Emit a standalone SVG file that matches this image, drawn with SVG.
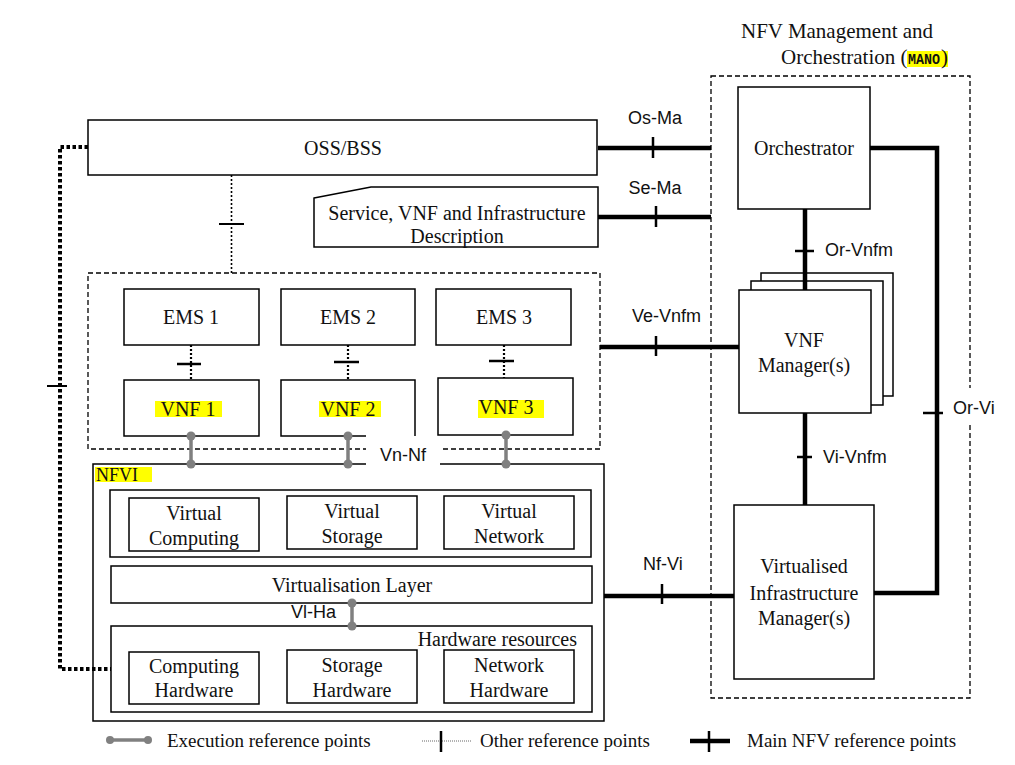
<svg xmlns="http://www.w3.org/2000/svg" width="1015" height="765" viewBox="0 0 1015 765">
<style>
.box{fill:#fff;stroke:#000;stroke-width:1.5}
.dbox{fill:none;stroke:#000;stroke-width:1.3;stroke-dasharray:5 3}
.t{font-family:"Liberation Serif","Times New Roman",serif;font-size:20px;fill:#111;text-anchor:middle}
.tl{font-family:"Liberation Serif","Times New Roman",serif;font-size:19px;fill:#111}
.s{font-family:"Liberation Sans",Arial,sans-serif;font-size:18px;fill:#111}
.main{stroke:#000;stroke-width:4.5;fill:none}
.tick{stroke:#000;stroke-width:2.5}
.exe{stroke:#808080;stroke-width:3.5}
.dot{fill:#808080}
.oth{stroke:#000;stroke-width:1.6;stroke-dasharray:2 2;fill:none}
.tdot{stroke:#000;stroke-width:4;stroke-dasharray:3.5 2.5;fill:none}
.hl{fill:#ffff00}
.wb{fill:#fff}
</style>
<rect width="1015" height="765" fill="#fff"/>

<g id="mano">
<rect class="dbox" x="711" y="76" width="259" height="622"/>
<text class="tl" x="741" y="38" style="font-size:21px">NFV Management and</text>
<text class="tl" x="781" y="64" style="font-size:21px">Orchestration (</text>
<rect class="hl" x="907" y="51" width="41" height="16"/>
<text x="908" y="64" font-family="Liberation Mono, monospace" font-size="14" font-weight="bold" textLength="32" lengthAdjust="spacingAndGlyphs" fill="#111">MANO</text>
<text class="tl" x="941" y="64" style="font-size:21px">)</text>
</g>

<g id="orchestrator">
<rect class="box" x="738" y="87" width="132" height="122"/>
<text class="t" x="804" y="155">Orchestrator</text>
</g>

<g id="vnf-manager">
<rect class="box" x="761" y="273" width="132" height="123"/>
<rect class="box" x="751" y="281" width="132" height="124"/>
<rect class="box" x="739" y="290" width="132" height="123"/>
<text class="t" x="804" y="347">VNF</text>
<text class="t" x="804" y="372">Manager(s)</text>
</g>

<g id="vim">
<rect class="box" x="734" y="505" width="140" height="174"/>
<text class="t" x="804" y="573">Virtualised</text>
<text class="t" x="804" y="600">Infrastructure</text>
<text class="t" x="804" y="625">Manager(s)</text>
</g>

<g id="oss-bss">
<rect class="box" x="88" y="120" width="509" height="55"/>
<text class="t" x="343" y="155">OSS/BSS</text>
</g>

<g id="service-description">
<polygon class="box" points="314,198 371,187 598,187 598,247 314,247"/>
<text class="t" x="457" y="220">Service, VNF and Infrastructure</text>
<text class="t" x="457" y="243">Description</text>
</g>

<g id="ems-vnf-group">
<rect class="dbox" x="88" y="273" width="512" height="176"/>
</g>

<g id="ems1"><rect class="box" x="124" y="289" width="135" height="56"/><text class="t" x="191" y="324">EMS 1</text></g>
<g id="ems2"><rect class="box" x="281" y="289" width="134" height="56"/><text class="t" x="348" y="324">EMS 2</text></g>
<g id="ems3"><rect class="box" x="436" y="289" width="135" height="56"/><text class="t" x="504" y="324">EMS 3</text></g>

<g id="vnf1"><rect class="box" x="124" y="380" width="135" height="56"/><rect class="hl" x="155" y="401" width="67" height="16"/><text class="t" x="188" y="416">VNF 1</text></g>
<g id="vnf2"><path class="box" d="M366,436 H281 V380 H415 V436" style="fill:#fff"/><rect class="hl" x="319" y="401" width="62" height="16"/><text class="t" x="348" y="416">VNF 2</text></g>
<g id="vnf3"><rect class="box" x="438" y="378" width="135" height="57"/><rect class="hl" x="478" y="400" width="66" height="18"/><text class="t" x="506" y="414">VNF 3</text></g>

<g id="nfvi">
<rect class="box" x="93" y="464" width="511" height="257"/>
<rect class="hl" x="95" y="467" width="57" height="15"/>
<text class="tl" x="96" y="481" style="font-size:18px">NFVI</text>
<rect class="box" x="110" y="490" width="481" height="67"/>
<rect class="box" x="129" y="498" width="130" height="53"/>
<text class="t" x="194" y="520">Virtual</text><text class="t" x="194" y="545">Computing</text>
<rect class="box" x="287" y="496" width="130" height="53"/>
<text class="t" x="352" y="518">Virtual</text><text class="t" x="352" y="543">Storage</text>
<rect class="box" x="444" y="496" width="130" height="53"/>
<text class="t" x="509" y="518">Virtual</text><text class="t" x="509" y="543">Network</text>
<rect class="box" x="111" y="566" width="481" height="37"/>
<text class="t" x="352" y="592">Virtualisation Layer</text>
<rect class="box" x="111" y="626" width="481" height="86"/>
<text class="t" x="577" y="646" style="text-anchor:end">Hardware resources</text>
<rect class="box" x="129" y="652" width="130" height="52"/>
<text class="t" x="194" y="673">Computing</text><text class="t" x="194" y="697">Hardware</text>
<rect class="box" x="287" y="650" width="130" height="53"/>
<text class="t" x="352" y="672">Storage</text><text class="t" x="352" y="697">Hardware</text>
<rect class="box" x="444" y="650" width="130" height="53"/>
<text class="t" x="509" y="672">Network</text><text class="t" x="509" y="697">Hardware</text>
</g>

<g id="connectors">
<!-- Os-Ma -->
<line class="main" x1="598" y1="148" x2="711" y2="148"/>
<line class="tick" x1="653" y1="137" x2="653" y2="158"/>
<text class="s" x="655" y="124" text-anchor="middle">Os-Ma</text>
<!-- Se-Ma -->
<line class="main" x1="598" y1="217" x2="711" y2="217"/>
<line class="tick" x1="656" y1="206" x2="656" y2="227"/>
<text class="s" x="655" y="194" text-anchor="middle">Se-Ma</text>
<!-- Or-Vi -->
<path class="main" d="M870,148 H937 V593 H874"/>
<line class="tick" x1="923" y1="413" x2="943" y2="413"/>
<rect class="wb" x="962" y="388" width="14" height="37"/>
<text class="s" x="953" y="414">Or-Vi</text>
<!-- Or-Vnfm -->
<line class="main" x1="805" y1="209" x2="805" y2="290"/>
<line class="tick" x1="795" y1="251" x2="814" y2="251"/>
<text class="s" x="825" y="256">Or-Vnfm</text>
<!-- Ve-Vnfm -->
<line class="main" x1="600" y1="347" x2="739" y2="347"/>
<line class="tick" x1="656" y1="336" x2="656" y2="356"/>
<text class="s" x="632" y="322">Ve-Vnfm</text>
<!-- Vi-Vnfm -->
<line class="main" x1="805" y1="413" x2="805" y2="505"/>
<line class="tick" x1="797" y1="457" x2="812" y2="457"/>
<text class="s" x="823" y="463">Vi-Vnfm</text>
<!-- Nf-Vi -->
<line class="main" x1="604" y1="596" x2="734" y2="596"/>
<line class="tick" x1="662" y1="584" x2="662" y2="604"/>
<text class="s" x="643" y="570">Nf-Vi</text>
<!-- OSS to EMS -->
<line class="oth" x1="231.5" y1="175" x2="231.5" y2="273"/>
<line class="tick" x1="219" y1="224" x2="244" y2="224" style="stroke-width:2"/>
<!-- OSS to NFVI -->
<path class="tdot" d="M88,147 H60 V669 H111"/>
<line class="tick" x1="47" y1="386" x2="67" y2="386" style="stroke-width:2"/>
<!-- EMS to VNF -->
<line class="oth" x1="191" y1="345" x2="191" y2="380" style="stroke-width:2.2"/>
<line class="tick" x1="177" y1="364" x2="201" y2="364"/>
<line class="oth" x1="348" y1="345" x2="348" y2="380" style="stroke-width:2.2"/>
<line class="tick" x1="334" y1="362" x2="359" y2="362"/>
<line class="oth" x1="504" y1="345" x2="504" y2="378" style="stroke-width:2.2"/>
<line class="tick" x1="489" y1="361" x2="514" y2="361"/>
<!-- Vn-Nf -->
<rect class="wb" x="366" y="438" width="74" height="32"/>
<text class="s" x="403" y="461" text-anchor="middle">Vn-Nf</text>
<line class="exe" x1="191" y1="436" x2="191" y2="464"/>
<circle class="dot" cx="191" cy="436" r="4.5"/><circle class="dot" cx="191" cy="464" r="4.5"/>
<line class="exe" x1="348" y1="436" x2="348" y2="464"/>
<circle class="dot" cx="348" cy="436" r="4.5"/><circle class="dot" cx="348" cy="464" r="4.5"/>
<line class="exe" x1="506" y1="435" x2="506" y2="464"/>
<circle class="dot" cx="506" cy="435" r="4.5"/><circle class="dot" cx="506" cy="464" r="4.5"/>
<!-- Vl-Ha -->
<line class="exe" x1="352" y1="603" x2="352" y2="626"/>
<circle class="dot" cx="352" cy="603" r="4.5"/><circle class="dot" cx="352" cy="626" r="4.5"/>
<text class="s" x="291" y="618">Vl-Ha</text>
</g>

<g id="legend">
<line class="exe" x1="110" y1="740" x2="148" y2="740"/>
<circle class="dot" cx="110" cy="740" r="4"/><circle class="dot" cx="148" cy="740" r="4"/>
<text class="tl" x="167" y="747">Execution reference points</text>
<line x1="422" y1="741" x2="472" y2="741" stroke="#666" stroke-width="1" stroke-dasharray="1 1"/>
<line class="tick" x1="441" y1="731" x2="441" y2="752"/>
<text class="tl" x="480" y="747">Other reference points</text>
<line class="main" x1="690" y1="741" x2="730" y2="741"/>
<line class="tick" x1="709" y1="731" x2="709" y2="752"/>
<text class="tl" x="747" y="747">Main NFV reference points</text>
</g>
</svg>
